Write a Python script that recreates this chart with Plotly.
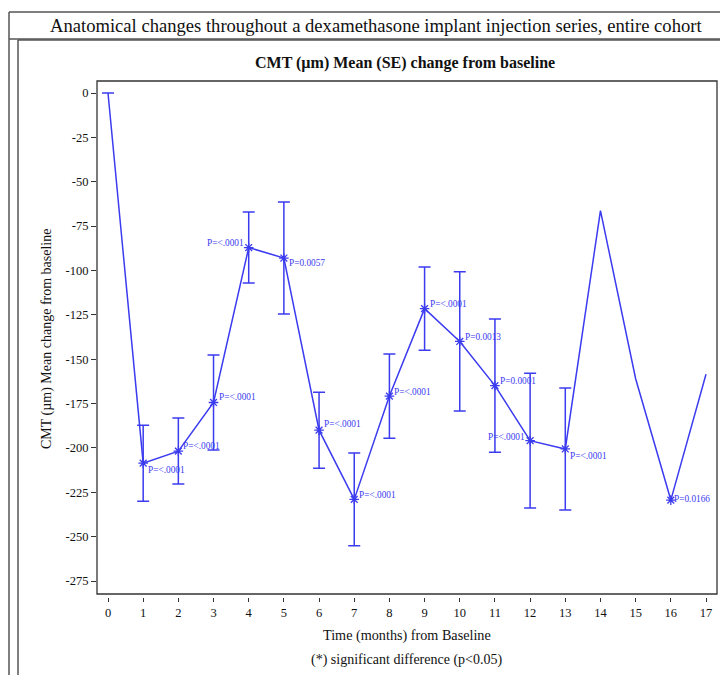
import plotly.graph_objects as go

# ---- data ----
months = list(range(0, 18))
mean_change = [0, -208.6, -201.8, -174.4, -87.1, -93.0, -190.0, -229.0, -170.8,
               -121.5, -140.0, -164.9, -195.9, -200.6, -66.3, -161.0, -229.4, -158.5]
se = [0, 21.4, 18.6, 26.8, 20.0, 31.6, 21.4, 26.2, 23.7,
      23.4, 39.2, 37.5, 38.0, 34.4, None, None, None, None]
significant = [False, True, True, True, True, True, True, True, True,
               True, True, True, True, True, False, False, True, False]
p_labels = [None, "P=<.0001", "P=<.0001", "P=<.0001", "P=<.0001", "P=0.0057",
            "P=<.0001", "P=<.0001", "P=<.0001", "P=<.0001", "P=0.0013",
            "P=0.0001", "P=<.0001", "P=<.0001", None, None, "P=0.0166", None]
y_tickvals = [0, -25, -50, -75, -100, -125, -150, -175, -200, -225, -250, -275]
y_ticktext = ["0", "-25", "-50", "-75", "-100", "-125", "-150", "-175", "-200",
              "-225", "-250", "-275"]
x_ticks = list(range(0, 18))

# ---- label placement styles (side, x shift px, y shift px) ----
label_style = {1: ("r", 3, -7), 2: ("r", 3, 5), 3: ("r", 3, 5), 4: ("l", -3, 5),
               5: ("r", 3, -5), 6: ("r", 3, 6), 7: ("r", 3, 4), 8: ("r", 3, 4),
               9: ("r", 3, 5), 10: ("r", 3, 4), 11: ("r", 3, 5), 12: ("l", -3, 4),
               13: ("r", 3, -7), 16: ("r", 1, 1)}

BLUE = "#3b3bef"
SERIF = "Liberation Serif, Times New Roman, serif"
OFF = 8                      # page body margin
W, H = 728 - OFF, 675 - OFF
L, R, T, B = 97, 717, 81, 597   # plot area in window pixels


def pxx(p):
    return (p - L) / (R - L)


def pxy(p):
    return (B - p) / (B - T)


fig = go.Figure()

# connecting line
fig.add_trace(go.Scatter(
    x=months, y=mean_change, mode="lines",
    line=dict(color=BLUE, width=1.5),
    hoverinfo="skip", showlegend=False))

# error bars only where an SE exists
ex = [m for m, s in zip(months, se) if s is not None]
ey = [v for v, s in zip(mean_change, se) if s is not None]
ee = [s for s in se if s is not None]
fig.add_trace(go.Scatter(
    x=ex, y=ey, mode="markers", marker=dict(size=1, opacity=0),
    error_y=dict(type="data", array=ee, visible=True, color=BLUE,
                 thickness=1.5, width=6),
    hoverinfo="skip", showlegend=False))

mx = [m for m, s in zip(months, significant) if s]
my = [v for v, s in zip(mean_change, significant) if s]
fig.add_trace(go.Scatter(
    x=mx, y=my, mode="markers",
    marker=dict(symbol="asterisk-open", size=8, color=BLUE,
                line=dict(color=BLUE, width=1.3)),
    showlegend=False))

annotations = []
for i, lab in enumerate(p_labels):
    if lab is None:
        continue
    side, xs, ys = label_style[i]
    annotations.append(dict(
        x=months[i], y=mean_change[i], xref="x", yref="y", text=lab,
        showarrow=False, xanchor="left" if side == "r" else "right",
        yanchor="middle", xshift=xs, yshift=ys,
        font=dict(family=SERIF, size=9.3, color=BLUE)))

# titles and text
annotations += [
    dict(x=pxx(376), y=pxy(25), xref="paper", yref="paper", showarrow=False,
         text="Anatomical changes throughout a dexamethasone implant injection series, entire cohort",
         xanchor="center", yanchor="middle", font=dict(family=SERIF, size=18.6, color="#111")),
    dict(x=pxx(405), y=pxy(63), xref="paper", yref="paper", showarrow=False,
         text="<b>CMT (µm) Mean (SE) change from baseline</b>",
         xanchor="center", yanchor="middle", font=dict(family=SERIF, size=16, color="#111")),
    dict(x=pxx(407), y=pxy(635), xref="paper", yref="paper", showarrow=False,
         text="Time (months) from Baseline",
         xanchor="center", yanchor="middle", font=dict(family=SERIF, size=14.2, color="#111")),
    dict(x=pxx(406), y=pxy(660), xref="paper", yref="paper", showarrow=False,
         text="(*) significant difference (p<0.05)",
         xanchor="center", yanchor="middle", font=dict(family=SERIF, size=14, color="#111")),
    dict(x=pxx(47), y=pxy(339), xref="paper", yref="paper", showarrow=False,
         text="CMT (µm) Mean change from baseline", textangle=-90,
         xanchor="center", yanchor="middle", font=dict(family=SERIF, size=14, color="#111")),
]

border = "#555"
shapes = [
    # plot frame (x axis sits a few px below it)
    dict(type="rect", xref="paper", yref="paper", x0=0, x1=1, y0=pxy(594), y1=1,
         line=dict(color="#333", width=1.3), layer="above"),
    # outer box
    dict(type="line", xref="paper", yref="paper", x0=pxx(9), x1=pxx(9), y0=pxy(12), y1=pxy(680),
         line=dict(color=border, width=1.5)),
    dict(type="line", xref="paper", yref="paper", x0=pxx(9), x1=pxx(727), y0=pxy(12), y1=pxy(12),
         line=dict(color=border, width=1.5)),
    dict(type="line", xref="paper", yref="paper", x0=pxx(727), x1=pxx(727), y0=pxy(12), y1=pxy(680),
         line=dict(color=border, width=1.5)),
    dict(type="line", xref="paper", yref="paper", x0=pxx(9), x1=pxx(727), y0=pxy(39), y1=pxy(39),
         line=dict(color=border, width=1.5)),
    # inner box
    dict(type="line", xref="paper", yref="paper", x0=pxx(18), x1=pxx(18), y0=pxy(40), y1=pxy(680),
         line=dict(color=border, width=1.5)),
    dict(type="line", xref="paper", yref="paper", x0=pxx(18), x1=pxx(727), y0=pxy(40), y1=pxy(40),
         line=dict(color=border, width=1.5)),
]

y_top = 0 + (93 - T) / (488 / 275)
y_bot = -275 - (B - 581) / (488 / 275)
x_left = 0 - (108 - L) / (598 / 17)
x_right = 17 + (R - 706) / (598 / 17)

fig.update_layout(
    width=W, height=H,
    margin=dict(l=L - OFF, r=W - (R - OFF), t=T - OFF, b=H - (B - OFF), pad=0),
    paper_bgcolor="white", plot_bgcolor="white",
    font=dict(family=SERIF, color="#111"),
    xaxis=dict(range=[x_left, x_right], tickvals=x_ticks, ticks="outside", ticklen=4,
               tickwidth=1.2, tickcolor="#333", showgrid=False, zeroline=False,
               showline=False, tickfont=dict(family=SERIF, size=12.5, color="#111")),
    yaxis=dict(range=[y_bot, y_top], tickvals=y_tickvals, ticktext=y_ticktext,
               ticks="outside", ticklen=5, tickwidth=1.2, tickcolor="#333",
               showgrid=False, zeroline=False, showline=False,
               tickfont=dict(family=SERIF, size=12.5, color="#111")),
    annotations=annotations, shapes=shapes,
)

fig.write_html("out.html")
